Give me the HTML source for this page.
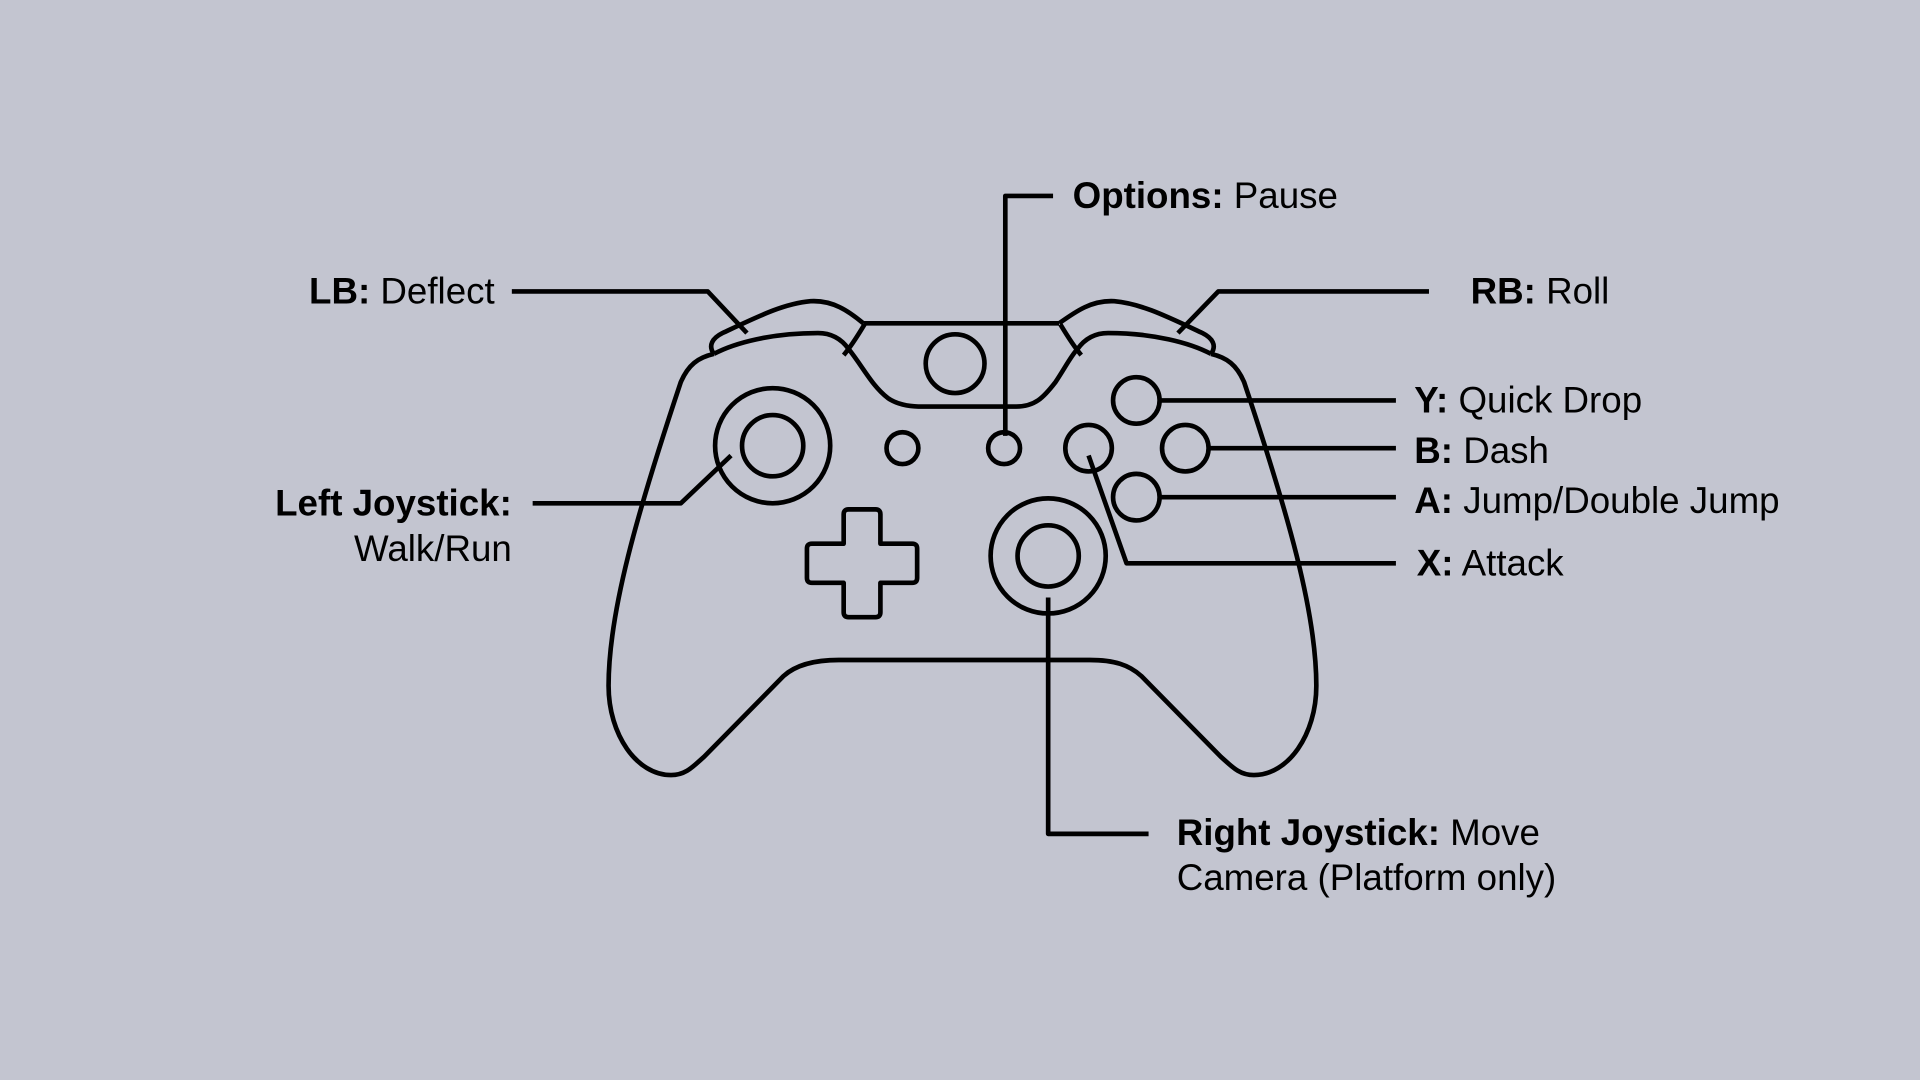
<!DOCTYPE html>
<html><head><meta charset="utf-8"><style>
html,body{margin:0;padding:0;background:#c3c5d0;width:1920px;height:1080px;overflow:hidden}
svg{display:block}
text{font-family:"Liberation Sans",Arial,sans-serif;font-size:30px;fill:#000}
.b{font-weight:bold}
</style></head><body>
<svg width="1920" height="1080" viewBox="0 0 1568 882" xmlns="http://www.w3.org/2000/svg">
<rect width="1568" height="882" fill="#c3c5d0"/>
<g fill="none" stroke="#000" stroke-width="3.8" stroke-linejoin="round" stroke-linecap="butt">
<path d="M583,289 C570,292 562,298 556,312 C520,420 497,500 497,560 C497,600 520,633 548,633 C560,633 566,626 575,618 L640,552 C650,543 665,539 685,539 L890,539 C910,539 922,543 932,552 L997,618 C1006,626 1012,633 1024,633 C1052,633 1075,600 1075,560 C1075,500 1052,420 1016,312 C1010,298 1002,292 989,289"/>
<path d="M583,289 C578,282 582,276 590,272 C620,258 640,248 662,246 C680,245 693,254 705,264"/>
<path d="M583,289 C600,280 630,272 668,272 C680,272 688,278 693,285 C705,300 712,315 725,325 C732,330 742,332 750,332 L830,332 C845,332 852,325 862,312 C870,300 875,290 880,285 C885,278 893,272 905,272 C942,272 972,280 989,289"/>
<path d="M705,264 L865,264"/>
<path d="M989,289 C994,282 990,276 982,272 C952,258 932,248 910,246 C892,245 879,254 865,264"/>
<path d="M706,265 C700,275 695,283 689,290"/>
<path d="M866,265 C872,275 877,283 883,290"/>
<circle cx="780" cy="297" r="24"/>
<circle cx="631" cy="364" r="47"/>
<circle cx="631" cy="364" r="25"/>
<circle cx="856" cy="454" r="47"/>
<circle cx="856" cy="454" r="25"/>
<circle cx="737" cy="366" r="13"/>
<circle cx="820" cy="366" r="13"/>
<circle cx="928" cy="327" r="19"/>
<circle cx="968" cy="366" r="19"/>
<circle cx="928" cy="406" r="19"/>
<circle cx="889" cy="366" r="19"/>
<path d="M693,416 L715,416 Q719,416 719,420 L719,444 L745,444 Q749,444 749,448 L749,472 Q749,476 745,476 L719,476 L719,500 Q719,504 715,504 L693,504 Q689,504 689,500 L689,476 L663,476 Q659,476 659,472 L659,448 Q659,444 663,444 L689,444 L689,420 Q689,416 693,416 Z"/>
<path d="M860,160 L821,160 L821,356"/>
<path d="M418,238 L578,238 L610,272"/>
<path d="M1167,238 L995,238 L962,272"/>
<path d="M947,327 L1140,327"/>
<path d="M987,366 L1140,366"/>
<path d="M947,406 L1140,406"/>
<path d="M889,372 L920,460 L1140,460"/>
<path d="M435,411 L556,411 L597,372"/>
<path d="M856,488 L856,681 L938,681"/>
</g>
<text x="876" y="170"><tspan class="b">Options:</tspan> Pause</text>
<text x="404" y="248" text-anchor="end"><tspan class="b">LB:</tspan> Deflect</text>
<text x="1201" y="248"><tspan class="b">RB:</tspan> Roll</text>
<text x="1155" y="337"><tspan class="b">Y:</tspan> Quick Drop</text>
<text x="1155" y="378"><tspan class="b">B:</tspan> Dash</text>
<text x="1155" y="419"><tspan class="b">A:</tspan> Jump/Double Jump</text>
<text x="1157" y="470"><tspan class="b">X:</tspan> Attack</text>
<text x="418" y="421" text-anchor="end" class="b">Left Joystick:</text>
<text x="418" y="458" text-anchor="end">Walk/Run</text>
<text x="961" y="690"><tspan class="b">Right Joystick:</tspan> Move</text>
<text x="961" y="727">Camera (Platform only)</text>
</svg>
</body></html>
